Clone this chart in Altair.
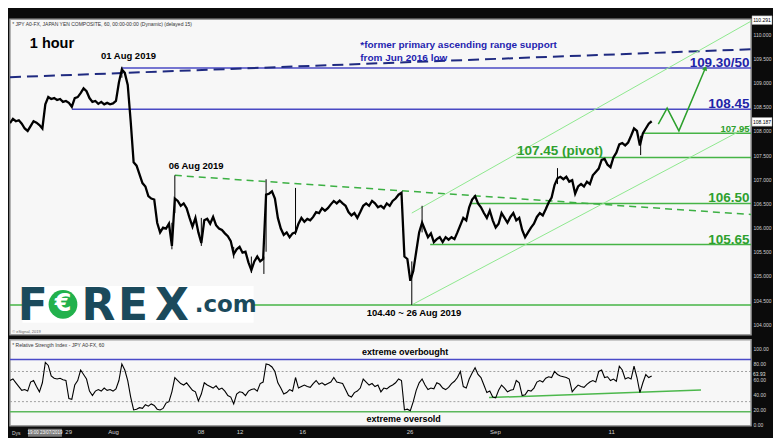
import altair as alt
import pandas as pd

# ---------------- data ----------------
STEP = 4  # trading hours between sampled closes
close = [
    108.16, 108.25, 108.20, 108.22, 108.15, 108.05, 108.00, 108.10, 108.20, 108.17,
    108.12, 108.05, 108.55, 108.70, 108.66, 108.68, 108.64, 108.66, 108.60, 108.62,
    108.58, 108.50, 108.68, 108.70, 108.78, 108.88, 108.82, 108.68, 108.60, 108.62,
    108.56, 108.60, 108.55, 108.58, 108.55, 108.57, 108.62, 109.00, 109.27, 109.20,
    108.95, 108.20, 107.35, 107.28, 107.10, 106.92, 106.85, 106.65, 106.60, 106.58,
    106.10, 105.90, 106.00, 105.98, 106.08, 105.62, 106.60, 106.55, 106.45, 106.50,
    106.40, 106.20, 106.02, 106.20, 105.90, 105.68, 106.15, 106.18, 106.08, 106.22,
    106.05, 105.98, 105.95, 105.88, 105.82, 105.72, 105.45, 105.55, 105.60, 105.48,
    105.50, 105.28, 105.12, 105.30, 105.40, 105.30, 105.35, 106.68, 106.70, 106.75,
    106.60, 106.20, 105.98, 105.85, 105.90, 105.80, 105.88, 105.90, 106.08, 106.20,
    106.12, 106.18, 106.15, 106.22, 106.32, 106.30, 106.40, 106.35, 106.40, 106.48,
    106.55, 106.50, 106.56, 106.50, 106.45, 106.32, 106.25, 106.30, 106.20, 106.32,
    106.45, 106.50, 106.45, 106.55, 106.50, 106.42, 106.45, 106.40, 106.50, 106.45,
    106.55, 106.60, 106.68, 106.72, 105.40, 105.35, 104.90, 105.10, 105.50, 105.90,
    106.10, 105.95, 105.80, 105.88, 105.70, 105.76, 105.80, 105.70, 105.80, 105.75,
    105.80, 105.76, 105.90, 106.05, 106.20, 106.15, 106.42, 106.58, 106.65, 106.50,
    106.42, 106.30, 106.20, 106.35, 106.15, 106.00, 106.08, 106.30, 106.20, 106.10,
    106.22, 106.30, 106.15, 106.20, 105.95, 105.80, 105.90, 106.00, 106.08, 106.22,
    106.30, 106.25, 106.38, 106.52, 106.62, 106.88, 107.02, 107.05, 107.00, 107.05,
    106.95, 106.98, 106.70, 106.85, 106.90, 106.85, 106.95, 106.90, 107.08, 107.15,
    107.22, 107.40, 107.42, 107.30, 107.25, 107.45, 107.55, 107.72, 107.75, 107.70,
    107.76, 107.90, 108.05, 108.00, 107.70, 107.95, 108.05, 108.15, 108.20]

rsi = [
    58, 60, 55, 50, 45, 46, 44, 56, 58, 50,
    43, 55, 82, 78, 64, 61, 60, 61, 59, 58,
    34, 33, 52, 58, 72, 66, 60, 44, 38, 44,
    46, 44, 48, 45, 46, 44, 47, 58, 80, 72,
    58, 36, 19, 20, 22, 21, 26, 24, 27, 25,
    20, 19, 21, 28, 30, 43, 62, 58, 54, 52,
    55, 50, 45, 43, 31, 40, 55, 52, 50, 48,
    51, 46, 48, 44, 38, 36, 27, 40, 43, 42,
    38, 44, 46, 47, 44, 54, 56, 80, 79, 76,
    70, 55, 48, 40, 42, 46, 44, 62, 48, 50,
    52, 50, 49, 54, 58, 53, 55, 52, 54, 56,
    62, 56, 55, 54, 46, 38, 36, 42, 44, 48,
    60, 56, 52, 54, 50, 52, 43, 48, 47, 50,
    52, 55, 60, 58, 19, 20, 18, 30, 45, 55,
    60, 52, 46, 48, 47, 55, 53, 48, 46, 49,
    54, 57, 62, 70, 50, 48, 60, 68, 75, 66,
    62, 52, 42, 44, 36, 35, 45, 52, 48, 43,
    45, 46, 58, 55, 38, 39, 45, 44, 48, 56,
    58, 56, 61, 63, 62, 70, 66, 64, 63, 62,
    60, 43, 48, 52, 50, 49, 53, 56, 58, 56,
    70, 72, 62, 63, 58, 60, 57, 77, 72, 60,
    62, 60, 77, 62, 42, 55, 66, 62, 63.93]

hours = [i * STEP for i in range(len(close))]

wick_x = [152, 220, 224, 260, 304, 328, 345, 348, 388, 546, 560, 744, 857]
wick_hi = [109.33, 106.10, 107.08, 106.20, 105.60, 105.40, 105.40, 107.00, 106.82, 105.30, 106.45, 107.23, 107.90]
wick_lo = [109.10, 105.55, 106.30, 105.62, 105.36, 105.06, 105.04, 105.50, 105.85, 104.40, 105.90, 106.90, 107.50]

level_val = [109.30, 108.45, 107.95, 107.45, 106.50, 105.65, 104.40]
level_from = [152, 84, 861, 688, 627, 571, 0]
level_col = ["#4a4ac4", "#4a4ac4", "#46b446", "#46b446", "#46b446", "#46b446", "#46b446"]

lab_text = ["109.30/50", "108.45", "107.95", "106.50", "105.65"]
lab_y = [109.32, 108.47, 107.98, 106.52, 105.67]
lab_size = [13.5, 13.5, 9.5, 13.5, 13.5]
lab_col = ["#1f24a8", "#1f24a8", "#2ea02e", "#2ea02e", "#2ea02e"]

arrow_x = [881, 893, 909, 945]
arrow_y = [108.14, 108.47, 108.00, 109.30]

price_ticks = [104.0, 104.5, 105.0, 105.5, 106.0, 106.5, 107.0, 107.5, 108.0, 108.5, 109.0, 109.5, 110.0]
rsi_ticks = [0, 20, 40, 60, 80, 100]
xt_pos = [79, 140, 259, 312, 397, 543, 659, 817]
xt_lab = ["29", "Aug", "08", "12", "16", "26", "Sep", "11"]

# ---------------- layout ----------------
W, HP, HR = 742, 316, 86
XEND = 1007
xs = alt.Scale(domain=[0, XEND], nice=False, zero=False)
ps = alt.Scale(domain=[103.78, 110.31], nice=False, zero=False)
rs = alt.Scale(domain=[-2, 112], nice=False, zero=False)
FONT = "Liberation Sans"

axis_style = dict(orient="right", labelFontSize=5, labelColor="#d0d0d0", ticks=False, domain=False,
                  grid=False, labelPadding=2, title=None, labelFont=FONT, labelOverlap=False)
P_AXIS = alt.Axis(values=price_ticks, format=".3f", **axis_style)
R_AXIS = alt.Axis(values=rsi_ticks, format=".2f", **axis_style)
label_expr = " : ".join(f"datum.value == {p} ? '{l}'" for p, l in zip(xt_pos, xt_lab)) + " : ''"
X_AXIS = alt.Axis(values=xt_pos, labelExpr=label_expr, labelFontSize=6, labelColor="#d0d0d0",
                  ticks=False, domain=False, grid=False, labelPadding=3, title=None,
                  labelFont=FONT, labelOverlap=False)


def PX(f="x"):
    return alt.X(f"{f}:Q", scale=xs, axis=None, title=None)


def RX(f="x"):
    return alt.X(f"{f}:Q", scale=xs, axis=X_AXIS, title=None)


def PY(f="y"):
    return alt.Y(f"{f}:Q", scale=ps, axis=P_AXIS, title=None)


def RY(f="y"):
    return alt.Y(f"{f}:Q", scale=rs, axis=R_AXIS, title=None)


def txt(rows, xfun, yfun, size, color="black", align="left", baseline="middle", weight="bold", font=FONT):
    df = pd.DataFrame(rows, columns=["x", "y", "t"])
    return alt.Chart(df).mark_text(fontSize=size, color=color, align=align, baseline=baseline,
                                   fontWeight=weight, font=font).encode(x=xfun(), y=yfun(), text="t:N")


def seg(rows, xfun, yfun, color, width, dash=None):
    df = pd.DataFrame(rows, columns=["x", "y", "x2", "y2"])
    kw = dict(color=color, strokeWidth=width, clip=True)
    if dash:
        kw["strokeDash"] = dash
    return alt.Chart(df).mark_rule(**kw).encode(x=xfun(), y=yfun(), x2="x2:Q", y2="y2:Q")


# ---------------- price panel ----------------
lev_df = pd.DataFrame({"x": level_from, "x2": [XEND] * len(level_val), "y": level_val, "c": level_col})
levels = alt.Chart(lev_df).mark_rule(strokeWidth=1.5).encode(
    x=PX(), x2="x2:Q", y=PY(), color=alt.Color("c:N", scale=None))

navy = seg([[0, 109.11, XEND, 109.69]], PX, PY, "#1f2a80", 2, [11, 6])
gdash = seg([[224, 107.08, XEND, 106.27]], PX, PY, "#3cb043", 1.5, [7, 5])
chan = seg([[546, 106.30, XEND, 110.27], [546, 104.40, XEND, 108.12]], PX, PY, "#8fe88f", 1)

logo_box = alt.Chart(pd.DataFrame({"x": [17], "x2": [331], "y": [104.79], "y2": [104.03]})).mark_rect(
    color="white").encode(x=PX(), x2="x2:Q", y=PY(), y2="y2:Q")
logo_letters = txt([[31, 104.09, "F"], [120, 104.09, "R"], [167, 104.09, "E"], [220, 104.09, "X"]],
                   PX, PY, 44, "#1b4a5c", "center", "alphabetic", "bold", "DejaVu Sans")
logo_com = txt([[251, 104.26, ".com"]], PX, PY, 23, "#1b4a5c", "left", "alphabetic", "bold", "DejaVu Sans")
logo_o = alt.Chart(pd.DataFrame({"x": [72], "y": [104.41]})).mark_point(
    shape="circle", filled=True, size=830, color="#22b14c", opacity=1).encode(x=PX(), y=PY())
logo_e = txt([[72, 104.41, "€"]], PX, PY, 24, "white", "center", "middle", "bold", "DejaVu Sans")

price_df = pd.DataFrame({"x": hours, "y": close})
price_line = alt.Chart(price_df).mark_line(color="black", strokeWidth=2.3, clip=True).encode(x=PX(), y=PY())
wick_df = pd.DataFrame({"x": wick_x, "y": wick_hi, "y2": wick_lo})
wicks = alt.Chart(wick_df).mark_rule(color="black", strokeWidth=1).encode(x=PX(), y=PY(), y2="y2:Q")

arrow = alt.Chart(pd.DataFrame({"x": arrow_x, "y": arrow_y, "o": list(range(4))})).mark_line(
    color="#2ca02c", strokeWidth=1.5).encode(x=PX(), y=PY(), order="o:Q")
arrow_head = alt.Chart(pd.DataFrame({"x": arrow_x[-1:], "y": arrow_y[-1:]})).mark_point(
    shape="triangle-up", filled=True, size=30, angle=23, color="#2ca02c", opacity=1).encode(x=PX(), y=PY())

lab_df = pd.DataFrame({"x": [1005] * len(lab_text), "y": lab_y, "t": lab_text, "s": lab_size, "c": lab_col})
level_labels = alt.Chart(lab_df).mark_text(align="right", baseline="alphabetic", fontWeight="bold",
                                           font=FONT).encode(
    x=PX(), y=PY(), text="t:N", size=alt.Size("s:Q", scale=None), color=alt.Color("c:N", scale=None))
pivot = txt([[689, 107.50, "107.45 (pivot)"]], PX, PY, 13.5, "#2ea02e", "left", "alphabetic")

header = txt([[3, 110.21, "* JPY A0-FX, JAPAN YEN COMPOSITE, 60, 00:00-00:00 (Dynamic) (delayed 15)"]],
             PX, PY, 5, "#333333", "left", "middle", "normal")
hour = txt([[27, 109.79, "1 hour"]], PX, PY, 14.5)
dates = txt([[161, 109.55, "01 Aug 2019"], [253, 107.27, "06 Aug 2019"], [549, 104.24, "104.40 ~ 26 Aug 2019"]],
            PX, PY, 9.5, "black", "center")
note = txt([[476, 109.77, "*former primary ascending range support"], [476, 109.50, "from Jun 2016 low"]],
           PX, PY, 10, "#1f1fb0", "left")
esig = txt([[3, 103.80, "© eSignal, 2019"]], PX, PY, 4, "#666666", "left", "bottom", "normal")

box_val = [110.291, 108.187]
box_df = pd.DataFrame({"y": [v + 0.09 for v in box_val], "y2": [v - 0.09 for v in box_val],
                       "v": box_val, "t": [f"{v:.3f}" for v in box_val]})
p_boxes = alt.Chart(box_df).mark_rect(color="white", stroke="#999999", strokeWidth=0.5).encode(
    x=alt.value(W + 1), x2=alt.value(W + 21), y=PY(), y2="y2:Q")
p_boxtxt = alt.Chart(box_df).mark_text(fontSize=5, font=FONT, color="black").encode(
    x=alt.value(W + 11), y=PY("v"), text="t:N")

price_panel = alt.layer(
    levels, navy, gdash, chan, logo_box, logo_letters, logo_com, logo_o, logo_e,
    price_line, wicks, arrow, arrow_head, level_labels, pivot, header, hour, dates, note, esig,
    p_boxes, p_boxtxt
).properties(width=W, height=HP)

# ---------------- RSI panel ----------------
rsi_df = pd.DataFrame({"x": hours, "y": rsi})
rsi_line = alt.Chart(rsi_df).mark_line(color="black", strokeWidth=1.1, clip=True).encode(x=RX(), y=RY())

dots = seg([[0, 70, XEND, 70], [0, 30, XEND, 30]], RX, RY, "#a0a0a0", 1, [2, 2])
ob = seg([[0, 86, XEND, 86]], RX, RY, "#4a4ac8", 1.5)
os_ = seg([[0, 16.5, XEND, 16.5]], RX, RY, "#5cb85c", 1.5)
trend = seg([[651, 35.4, 939, 45.5]], RX, RY, "#4cb84c", 1.5)
rhead = txt([[3, 104.7, "* Relative Strength Index - JPY A0-FX, 60"]], RX, RY, 5, "#333333", "left", "middle",
            "normal")
extreme = txt([[537, 95.8, "extreme overbought"], [535, 7.2, "extreme oversold"]], RX, RY, 9, "black", "center")
r_box = alt.Chart(pd.DataFrame({"v": [63.93], "t": ["63.93"]})).mark_text(
    fontSize=5, font=FONT, color="#e0e0e0", align="left", dx=2, dy=-2).encode(
    x=alt.value(W), y=RY("v"), text="t:N")
dys = alt.Chart(pd.DataFrame({"t": ["Dys"]})).mark_text(fontSize=5, font=FONT, color="#cccccc",
                                                         align="left").encode(
    x=alt.value(2), y=alt.value(HR + 7), text="t:N")
dbox = alt.Chart(pd.DataFrame({"t": ["19:00 23/07/2019"]})).mark_rect(color="#7a7a7a").encode(
    x=alt.value(18), x2=alt.value(52), y=alt.value(HR + 3), y2=alt.value(HR + 11))
dtxt = alt.Chart(pd.DataFrame({"t": ["19:00 23/07/2019"]})).mark_text(fontSize=4.5, font=FONT,
                                                                       color="white").encode(
    x=alt.value(35), y=alt.value(HR + 7), text="t:N")

rsi_panel = alt.layer(dots, ob, os_, trend, rsi_line, rhead, extreme, r_box, dbox, dtxt, dys).properties(
    width=W, height=HR)

chart = alt.vconcat(price_panel, rsi_panel, spacing=3).properties(
    background="#0b0b0b", padding={"left": 0, "top": 6, "right": 0, "bottom": 0}
).configure_view(fill="#f7f7f7", stroke="#9c9c9c", strokeWidth=1.5)

chart.save("out.html", embed_options={"renderer": "svg", "actions": False})
